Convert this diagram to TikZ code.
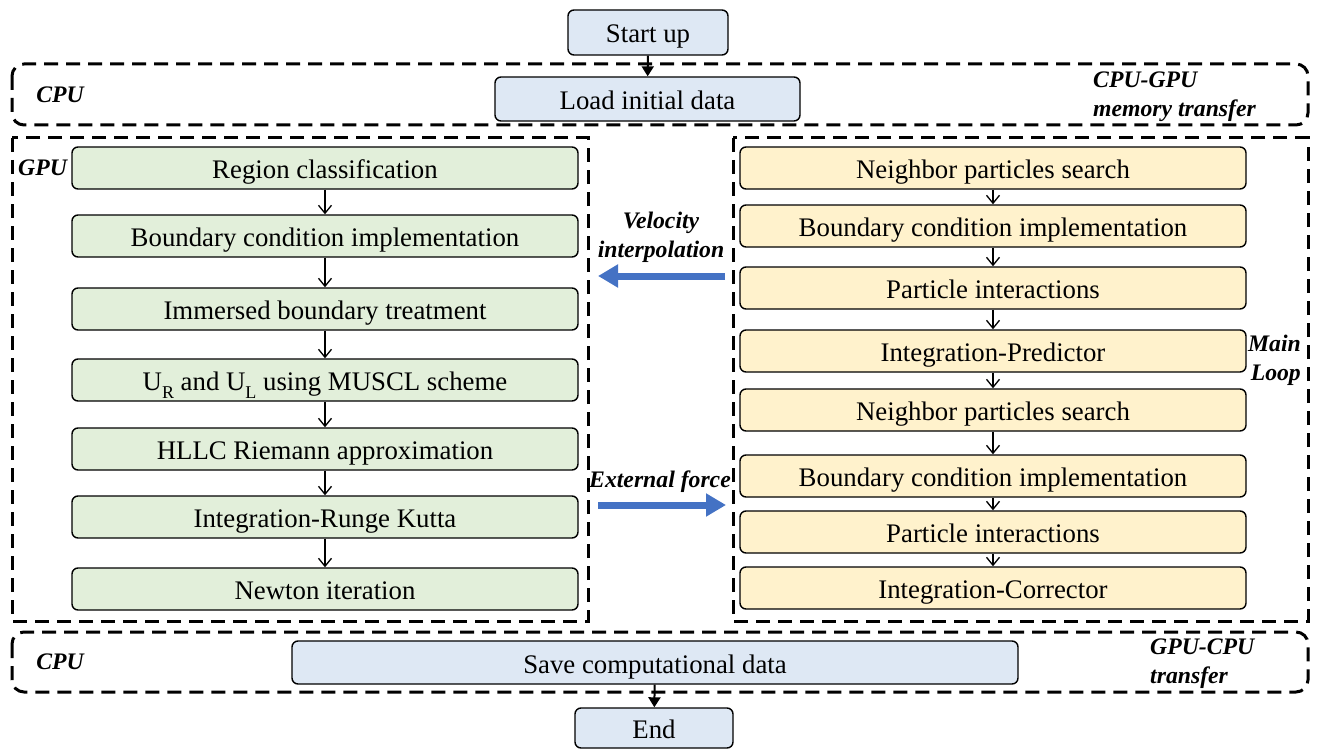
\documentclass[tikz,border=0pt]{standalone}
\usepackage{fontspec}
\setmainfont{Liberation Serif}
\usetikzlibrary{arrows.meta}
\definecolor{cpufill}{HTML}{DEE8F4}
\definecolor{gpufill}{HTML}{E2EFDA}
\definecolor{sphfill}{HTML}{FFF2CC}
\definecolor{bluearrow}{HTML}{4472C4}
\tikzset{
  procbox/.style={draw=black, line width=1.4pt, rounded corners=6pt, minimum height=42pt, inner sep=0pt,
    font=\fontsize{26.8}{32}\selectfont, text height=26pt, text depth=5pt},
  greenbox/.style={procbox, fill=gpufill, minimum width=506pt},
  yellowbox/.style={procbox, fill=sphfill, minimum width=506pt},
  bluebox/.style={procbox, fill=cpufill},
  regionbox/.style={draw=black, line width=3pt, dash pattern=on 14pt off 8pt},
  lbl/.style={font=\fontsize{23.7}{29}\selectfont\bfseries\itshape, inner sep=0pt},
  flow/.style={line width=1.3pt, -{Straight Barb[length=8pt,width=13pt,line width=1.3pt]}},
  bigflow/.style={line width=2pt, -{Triangle[length=10pt,width=12pt]}},
  bluearr/.style={draw=bluearrow, line width=7pt, -{Triangle[length=20pt,width=22pt]}}
}
\begin{document}
\begin{tikzpicture}[x=1pt,y=-1pt]
\useasboundingbox (0,0) rectangle (1320,749);
% region boxes
\draw[regionbox, rounded corners=12pt] (12,64) rectangle (1308,125);
\draw[regionbox] (12,138) rectangle (588,621);
\draw[regionbox] (733,138) rectangle (1308,621);
\draw[regionbox, rounded corners=12pt] (12,632) rectangle (1308,692);
% CPU nodes
\node[bluebox, minimum width=160pt, minimum height=45pt] (start) at (648,32.5) {Start up};
\node[bluebox, minimum width=305pt, minimum height=44pt] (load) at (647.5,99) {Load initial data};
\node[bluebox, minimum width=726pt, minimum height=43pt] (save) at (655,662.5) {Save computational data};
\node[bluebox, minimum width=158pt, minimum height=40pt] (end) at (654,728) {End};
% GPU (FVM) nodes
\node[greenbox] (g1) at (325,168) {Region classification};
\node[greenbox] (g2) at (325,236) {Boundary condition implementation};
\node[greenbox] (g3) at (325,309) {Immersed boundary treatment};
\node[greenbox] (g4) at (325,380) {U\raisebox{-0.28em}{\fontsize{18}{18}\selectfont R} and U\raisebox{-0.28em}{\fontsize{18}{18}\selectfont L} using MUSCL scheme};
\node[greenbox] (g5) at (325,449) {HLLC Riemann approximation};
\node[greenbox] (g6) at (325,517) {Integration-Runge Kutta};
\node[greenbox] (g7) at (325,589) {Newton iteration};
% SPH nodes
\node[yellowbox] (y1) at (993,168) {Neighbor particles search};
\node[yellowbox] (y2) at (993,226) {Boundary condition implementation};
\node[yellowbox] (y3) at (993,288) {Particle interactions};
\node[yellowbox] (y4) at (993,351) {Integration-Predictor};
\node[yellowbox] (y5) at (993,410) {Neighbor particles search};
\node[yellowbox] (y6) at (993,476) {Boundary condition implementation};
\node[yellowbox] (y7) at (993,532) {Particle interactions};
\node[yellowbox] (y8) at (993,588) {Integration-Corrector};
% flows
\draw[bigflow] (start) -- (load);
\draw[bigflow] (save) -- (end);
\foreach \a/\b in {g1/g2,g2/g3,g3/g4,g4/g5,g5/g6,g6/g7,y1/y2,y2/y3,y3/y4,y4/y5,y5/y6,y6/y7,y7/y8}
  \draw[flow] (\a) -- (\b);
% coupling arrows
\coordinate (vs) at (725,276);
\coordinate (ve) at (598,276);
\coordinate (es) at (598,505);
\coordinate (ee) at (726,505);
\draw[bluearr] (vs) -- (ve);
\draw[bluearr] (es) -- (ee);
% labels
\node[lbl] (cpu1) at (60,95) {CPU};
\node[lbl, anchor=west, align=left] (mt) at (1093,97) {CPU-GPU\\memory transfer};
\node[lbl, anchor=west] (gpu) at (18,168) {GPU};
\node[lbl, align=center] (vi) at (661,237) {Velocity\\interpolation};
\node[lbl] (ef) at (660,482) {External force};
\node[lbl, anchor=east, align=right] (ml) at (1301,360) {Main\\Loop};
\node[lbl] (cpu2) at (60,662) {CPU};
\node[lbl, anchor=west, align=left] (gt) at (1150,664) {GPU-CPU\\transfer};
\end{tikzpicture}
\end{document}
